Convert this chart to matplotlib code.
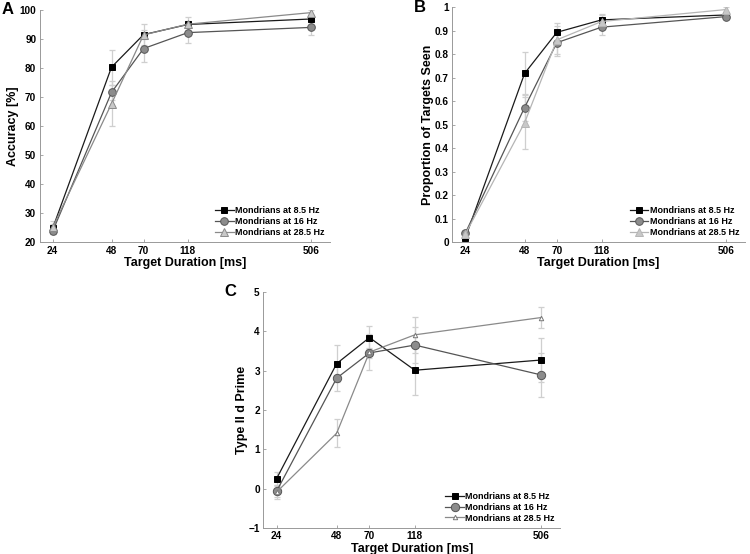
import matplotlib
import matplotlib.pyplot as plt

matplotlib.use("Agg")

plt.rcParams["font.family"] = ["Liberation Sans", "DejaVu Sans"]
plt.rcParams["font.weight"] = "bold"

durations = [24, 48, 70, 118, 506]
tick_labels = ["24", "48", "70", "118", "506"]
series_names = ["Mondrians at 8.5 Hz", "Mondrians at 16 Hz", "Mondrians at 28.5 Hz"]

# Panel A: accuracy [%]
acc_85 = [24.8, 80.3, 91.5, 95.0, 96.9]
acc_16 = [23.8, 71.6, 86.7, 92.2, 94.0]
acc_285 = [25.1, 67.7, 91.4, 95.1, 99.1]
acc_85_err = [1.5, 6.0, 1.5, 1.2, 1.0]
acc_16_err = [1.0, 2.7, 4.8, 3.5, 2.5]
acc_285_err = [2.2, 7.8, 3.6, 2.4, 1.0]

# Panel B: proportion of targets seen
seen_85 = [0.018, 0.718, 0.893, 0.946, 0.967]
seen_16 = [0.038, 0.573, 0.849, 0.915, 0.960]
seen_285 = [0.034, 0.508, 0.861, 0.939, 0.990]
seen_85_err = [0.01, 0.09, 0.04, 0.02, 0.01]
seen_16_err = [0.01, 0.056, 0.055, 0.035, 0.01]
seen_285_err = [0.01, 0.11, 0.06, 0.03, 0.01]

# Panel C: type II d prime
dp_85 = [0.25, 3.18, 3.84, 3.01, 3.27]
dp_16 = [-0.07, 2.81, 3.45, 3.65, 2.89]
dp_285 = [-0.09, 1.41, 3.47, 3.91, 4.35]
dp_85_err = [0.18, 0.48, 0.29, 0.62, 0.55]
dp_16_err = [0.15, 0.32, 0.12, 0.45, 0.55]
dp_285_err = [0.17, 0.36, 0.45, 0.45, 0.27]


def draw_panel(ax, ys, errs, styles, ylabel, ylim, yticks, yticklabels, letter):
    for y, e, st, name in zip(ys, errs, styles, series_names):
        ax.errorbar(durations, y, yerr=e, fmt="none", ecolor="#cfcfcf",
                    elinewidth=0.9, capsize=2.5, capthick=0.9, zorder=1)
        ax.plot(durations, y, color=st["line"], linewidth=0.9,
                marker=st["marker"], markersize=st["ms"],
                markerfacecolor=st["face"], markeredgecolor=st["edge"],
                markeredgewidth=0.7, label=name, zorder=2)
    ax.set_xscale("log")
    ax.set_xlim(20.6, 630)
    ax.set_xticks(durations)
    ax.set_xticklabels(tick_labels)
    ax.minorticks_off()
    ax.set_ylim(*ylim)
    ax.set_yticks(yticks)
    ax.set_yticklabels(yticklabels)
    ax.tick_params(direction="in", length=2.5, width=0.6, color="#999999",
                   labelsize=7.2, pad=2.5)
    for lab in ax.get_xticklabels() + ax.get_yticklabels():
        lab.set_fontweight("bold")
    for s in ["top", "right"]:
        ax.spines[s].set_visible(False)
    for s in ["left", "bottom"]:
        ax.spines[s].set_color("#999999")
        ax.spines[s].set_linewidth(0.7)
    ax.set_xlabel("Target Duration [ms]", fontsize=9, fontweight="bold", labelpad=1)
    ax.set_ylabel(ylabel, fontsize=9, fontweight="bold", labelpad=0.5)
    leg = ax.legend(loc="lower right", frameon=False, fontsize=6.5,
                    handlelength=2.1, handletextpad=0.15, labelspacing=0.2,
                    borderaxespad=0.2)
    for t in leg.get_texts():
        t.set_fontweight("bold")
    ax.text(-0.13, 1.0, letter, transform=ax.transAxes, fontsize=12,
            fontweight="bold", ha="left", va="center")


styles_a = [
    dict(line="#1a1a1a", marker="s", ms=3.8, face="black", edge="black"),
    dict(line="#555555", marker="o", ms=5.5, face="#8c8c8c", edge="#555555"),
    dict(line="#8a8a8a", marker="^", ms=5.5, face="#c8c8c8", edge="#8a8a8a"),
]
styles_b = [
    dict(line="#1a1a1a", marker="s", ms=3.8, face="black", edge="black"),
    dict(line="#555555", marker="o", ms=5.5, face="#8c8c8c", edge="#555555"),
    dict(line="#b5b5b5", marker="^", ms=5.5, face="#c8c8c8", edge="#b5b5b5"),
]
styles_c = [
    dict(line="#1a1a1a", marker="s", ms=4.5, face="black", edge="black"),
    dict(line="#555555", marker="o", ms=6, face="#8c8c8c", edge="#555555"),
    dict(line="#8a8a8a", marker="^", ms=3.2, face="white", edge="#777777"),
]

fig = plt.figure(figsize=(7.5, 5.54), dpi=100)
ax_a = fig.add_axes([0.053, 0.563, 0.387, 0.419])
ax_b = fig.add_axes([0.603, 0.563, 0.390, 0.424])
ax_c = fig.add_axes([0.351, 0.047, 0.396, 0.426])

draw_panel(ax_a, [acc_85, acc_16, acc_285], [acc_85_err, acc_16_err, acc_285_err],
           styles_a, "Accuracy [%]", (20, 100), range(20, 101, 10),
           [str(v) for v in range(20, 101, 10)], "A")
b_ticks = [i / 10 for i in range(11)]
draw_panel(ax_b, [seen_85, seen_16, seen_285], [seen_85_err, seen_16_err, seen_285_err],
           styles_b, "Proportion of Targets Seen", (0, 1), b_ticks,
           ["0", "0.1", "0.2", "0.3", "0.4", "0.5", "0.6", "0.7", "0.8", "0.9", "1"], "B")
draw_panel(ax_c, [dp_85, dp_16, dp_285], [dp_85_err, dp_16_err, dp_285_err],
           styles_c, "Type II d Prime", (-1, 5), range(-1, 6),
           ["\u22121", "0", "1", "2", "3", "4", "5"], "C")

fig.savefig("out.png", dpi=100)
